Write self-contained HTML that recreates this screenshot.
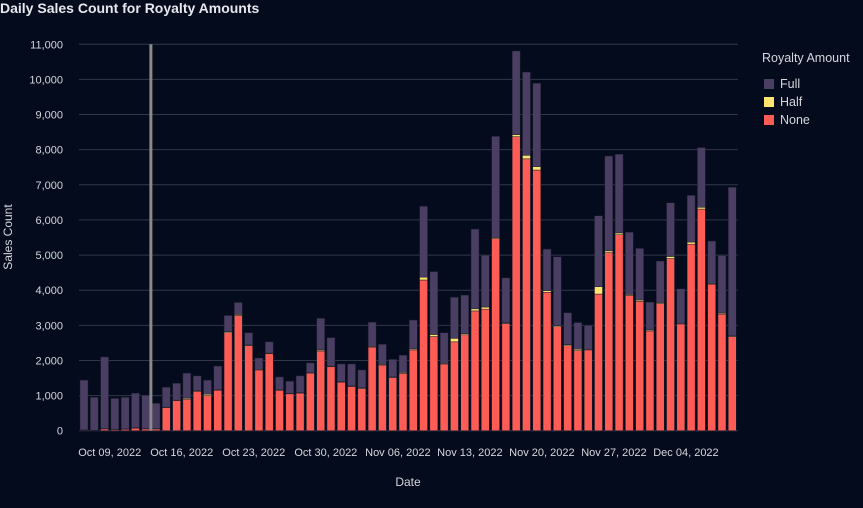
<!DOCTYPE html>
<html><head><meta charset="utf-8"><style>
html,body{margin:0;padding:0;background:#040b1c;}
svg{display:block;font-family:"Liberation Sans","DejaVu Sans",sans-serif;}
</style></head><body>
<svg id="chart" width="863" height="508" xmlns="http://www.w3.org/2000/svg">
<rect width="863" height="508" fill="#040b1c"/>
<text x="0" y="13" fill="#e6e8ee" font-size="14" font-weight="bold">Daily Sales Count for Royalty Amounts</text>
<g id="grid"></g>
<g id="bars"></g>
<g id="yticks"></g>
<g id="xticks"></g>
<text transform="translate(12,237) rotate(-90)" text-anchor="middle" fill="#d4d7de" font-size="12">Sales Count</text>
<text x="408" y="486" text-anchor="middle" fill="#d4d7de" font-size="12">Date</text>
<g>
<text x="762" y="62" fill="#d4d7de" font-size="12.5">Royalty Amount</text>
<rect x="764" y="79" width="10" height="10" fill="#4b3e63"/>
<text x="780" y="88" fill="#d4d7de" font-size="12.5">Full</text>
<rect x="764" y="97" width="10" height="10" fill="#fde46e"/>
<text x="780" y="106" fill="#d4d7de" font-size="12.5">Half</text>
<rect x="764" y="115" width="10" height="10" fill="#ff5c55"/>
<text x="780" y="124" fill="#d4d7de" font-size="12.5">None</text>
</g>
</svg>
<script>
const startDate = "2022-10-06";
const noneVals = [20,5,50,30,40,70,50,50,660,860,900,1120,1000,1150,2790,3280,2420,1730,2190,1150,1050,1070,1640,2270,1820,1380,1260,1200,2380,1870,1510,1630,2300,4290,2680,1900,2530,2730,3410,3460,5470,3050,8370,7740,7420,3940,2960,2420,2280,2300,3890,5070,5580,3850,3680,2840,3620,4900,3040,5310,6310,4170,3320,2680];
const halfVals = [5,5,10,5,10,15,10,10,10,10,30,20,40,20,30,30,20,20,20,10,10,10,10,30,20,15,15,20,20,20,20,30,30,80,60,20,100,30,60,60,30,20,60,100,100,50,30,30,40,20,210,50,50,30,40,30,30,60,20,60,50,20,30,20];
const fullVals = [1415,940,2040,885,900,985,950,720,570,480,710,420,400,670,460,340,350,320,320,370,350,480,280,900,810,505,625,510,690,570,500,490,820,2020,1790,870,1170,1100,2270,1480,2880,1280,2380,2370,2370,1180,1960,910,760,680,2020,2700,2240,1770,1470,790,1180,1530,980,1330,1700,1210,1640,4230];
const yTicks = [0,1000,2000,3000,4000,5000,6000,7000,8000,9000,10000,11000];
const yTickLabels = ["0","1,000","2,000","3,000","4,000","5,000","6,000","7,000","8,000","9,000","10,000","11,000"];
const xTickLabels = ["Oct 09, 2022","Oct 16, 2022","Oct 23, 2022","Oct 30, 2022","Nov 06, 2022","Nov 13, 2022","Nov 20, 2022","Nov 27, 2022","Dec 04, 2022"];
const xTickDays = [3,10,17,24,31,38,45,52,59];
const markerDay = 7;

const NS="http://www.w3.org/2000/svg";
const plotL=79, plotR=738, y0=430.7, yTop=44.3, yMax=11000;
const step=10.29, x0=84;
function xScale(dayIdx){return x0+dayIdx*step;}
function yScale(v){return y0-(v/yMax)*(y0-yTop);}
function mk(tag,attrs,parent){const e=document.createElementNS(NS,tag);for(const k in attrs)e.setAttribute(k,attrs[k]);parent.appendChild(e);return e;}

const grid=document.getElementById('grid');
yTicks.forEach((t,i)=>{
  const l=mk('line',{x1:plotL,x2:plotR,y1:yScale(t),y2:yScale(t),stroke:'#30374a','stroke-width':1},grid);
  
  
  const tx=mk('text',{x:63,y:yScale(t)+4,'text-anchor':'end',fill:'#d4d7de','font-size':11},document.getElementById('yticks'));
  tx.textContent=yTickLabels[i];
  
  
});
const bars=document.getElementById('bars');
const bw=8;
noneVals.forEach((n,i)=>{
  const h=halfVals[i], f=fullVals[i];
  const cx=xScale(i);
  const segs=[[0,n,'#ff5c55','none'],[n,n+h,'#fde46e','half'],[n+h,n+h+f,'#4b3e63','full']];
  segs.forEach(s=>{
    const r=mk('rect',{x:cx-bw/2,y:yScale(s[1]),width:bw,height:Math.max(0,yScale(s[0])-yScale(s[1])),fill:s[2],stroke:'#1a1c2c','stroke-width':0.5},bars);
    
    
  });
});
const vx=xScale(markerDay-0.5);
const vl=mk('line',{x1:vx,x2:vx,y1:yTop,y2:y0,stroke:'#8a8a8a','stroke-width':3},bars);


const xt=document.getElementById('xticks');
xTickLabels.forEach((lab,i)=>{
  const t=mk('text',{x:xScale(xTickDays[i]-0.5),y:456,'text-anchor':'middle',fill:'#d4d7de','font-size':11},xt);
  t.textContent=lab;
  
  
});
</script>
</body></html>
